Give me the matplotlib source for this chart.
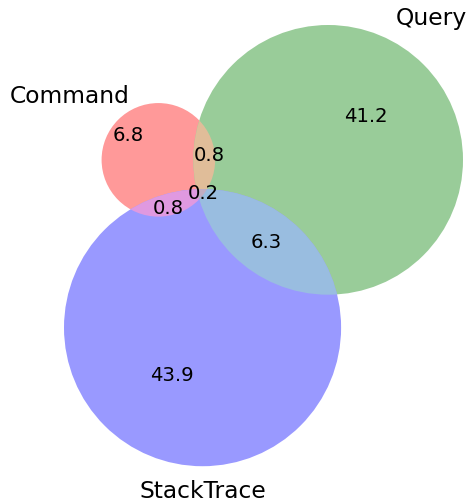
import numpy as np
import matplotlib
matplotlib.use('Agg')
import matplotlib.pyplot as plt
from matplotlib.patches import Circle, Polygon
from matplotlib.colors import to_rgb

# ---- data ----
set_names = ['Command', 'Query', 'StackTrace']
region_keys = ['100', '010', '110', '001', '101', '011', '111']
region_values = [6.8, 41.2, 0.8, 43.9, 0.8, 6.3, 0.2]
set_colors = ['r', 'g', 'b']
ALPHA = 0.4

# label nudges (pixels, x right / y down) relative to region centroids
label_nudge_px = {'100': (-21.5, -18), '010': (25, -30), '110': (5.5, -2.5),
                  '001': (-22, 32), '101': (0, 5), '011': (-1, 0), '111': (2, 1)}


def over_white(c):
    c = np.array(c)
    return tuple(ALPHA * c + (1 - ALPHA) * 1.0)


def mix(*cols):
    cols = [np.array(to_rgb(c)) for c in cols]
    if len(cols) == 2:
        m = 0.7 * (cols[0] + cols[1])
    else:
        m = 0.4 * (cols[0] + cols[1] + cols[2])
    return np.minimum(m, 1.0)


vals = dict(zip(region_keys, region_values))
sizes = [sum(v for k, v in vals.items() if k[i] == '1') for i in range(3)]
radii = [np.sqrt(s / np.pi) for s in sizes]


def lens_area(r1, r2, d):
    if d >= r1 + r2:
        return 0.0
    if d <= abs(r1 - r2):
        return np.pi * min(r1, r2) ** 2
    a1 = r1 ** 2 * np.arccos((d * d + r1 * r1 - r2 * r2) / (2 * d * r1))
    a2 = r2 ** 2 * np.arccos((d * d + r2 * r2 - r1 * r1) / (2 * d * r2))
    t = 0.5 * np.sqrt((-d + r1 + r2) * (d + r1 - r2) * (d - r1 + r2) * (d + r1 + r2))
    return a1 + a2 - t


def find_d(i, j):
    target = sum(v for k, v in vals.items() if k[i] == '1' and k[j] == '1')
    r1, r2 = radii[i], radii[j]
    lo, hi = abs(r1 - r2) + 1e-9, r1 + r2
    for _ in range(200):
        mid = 0.5 * (lo + hi)
        if lens_area(r1, r2, mid) > target:
            lo = mid
        else:
            hi = mid
    return 0.5 * (lo + hi)


d_ab, d_ac, d_bc = find_d(0, 1), find_d(0, 2), find_d(1, 2)
cos_a = (d_ab ** 2 + d_ac ** 2 - d_bc ** 2) / (2 * d_ab * d_ac)
sin_a = np.sqrt(1 - cos_a ** 2)
centers = np.array([[0.0, 0.0], [d_ab, 0.0], [d_ac * cos_a, -d_ac * sin_a]])

# ---- figure ----
fig = plt.figure(figsize=(4.71, 5.04), dpi=100)
ax = fig.add_axes([0, 0, 1, 1])
ax.set_axis_off()

min_x = min(centers[i, 0] - radii[i] for i in range(3))
max_x = max(centers[i, 0] + radii[i] for i in range(3))
max_y = max(centers[i, 1] + radii[i] for i in range(3))
k = 399.0 / (max_x - min_x)
ax.set_xlim(min_x - 64 / k, min_x + (471 - 64) / k)
ax.set_ylim(max_y - (504 - 25) / k, max_y + 25 / k)


def circ(i, color):
    return Circle(centers[i], radii[i], facecolor=color, edgecolor='none')


set_rgb = [np.array(to_rgb(c)) for c in set_colors]
for i in range(3):
    ax.add_patch(circ(i, over_white(set_rgb[i])))

for (i, j) in [(0, 1), (0, 2), (1, 2)]:
    p = circ(i, over_white(mix(set_colors[i], set_colors[j])))
    ax.add_patch(p)
    clip = Circle(centers[j], radii[j], transform=ax.transData)
    p.set_clip_path(clip)

# triple: circle C clipped by polygon of A ∩ B
t = np.linspace(0, 2 * np.pi, 4000)
pts = []
for i, j in [(0, 1), (1, 0)]:
    bx = centers[i, 0] + radii[i] * np.cos(t)
    by = centers[i, 1] + radii[i] * np.sin(t)
    m = (bx - centers[j, 0]) ** 2 + (by - centers[j, 1]) ** 2 <= radii[j] ** 2
    pts.append(np.column_stack([bx[m], by[m]]))
pts = np.vstack(pts)
cm = pts.mean(axis=0)
order = np.argsort(np.arctan2(pts[:, 1] - cm[1], pts[:, 0] - cm[0]))
lens_poly = Polygon(pts[order], closed=True, transform=ax.transData)
p3 = circ(2, over_white(mix(*set_colors)))
ax.add_patch(p3)
p3.set_clip_path(lens_poly)

# ---- region labels ----
gx = np.linspace(min_x, max_x, 1500)
gy = np.linspace(centers[2, 1] - radii[2], max_y, 1500)
X, Y = np.meshgrid(gx, gy)
inside = [(X - centers[i, 0]) ** 2 + (Y - centers[i, 1]) ** 2 <= radii[i] ** 2 for i in range(3)]
for key, v in zip(region_keys, region_values):
    m = np.ones_like(X, dtype=bool)
    for i in range(3):
        m &= inside[i] if key[i] == '1' else ~inside[i]
    cx, cy = X[m].mean(), Y[m].mean()
    nx, ny = label_nudge_px[key]
    ax.text(cx + nx / k, cy - ny / k, f'{v}', ha='center', va='center', fontsize=14.1)

# ---- set labels ----
FS = 16.8
ax.text(centers[0, 0] - radii[0] / 2, centers[0, 1] + radii[0], set_names[0],
        ha='right', va='baseline', fontsize=FS)
ax.text(centers[1, 0] + radii[1] / 2, centers[1, 1] + radii[1], set_names[1],
        ha='left', va='baseline', fontsize=FS)
ax.text(centers[2, 0], centers[2, 1] - radii[2] * 1.1, set_names[2],
        ha='center', va='top', fontsize=FS)

fig.savefig('out.png', dpi=100)
